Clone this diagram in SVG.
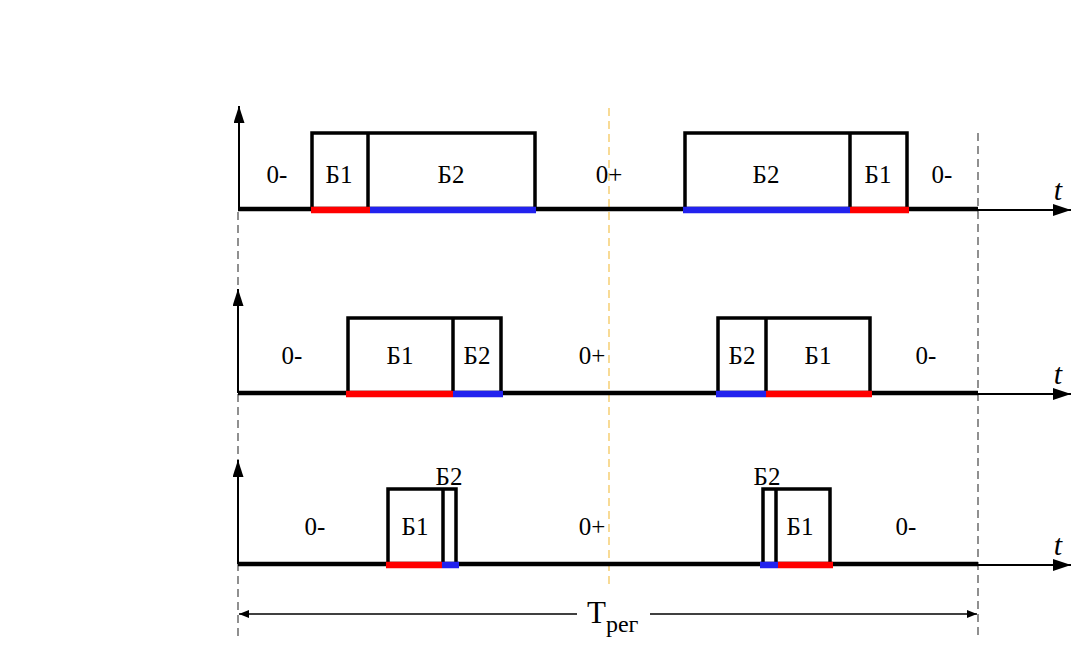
<svg xmlns="http://www.w3.org/2000/svg" width="1091" height="657" viewBox="0 0 1091 657">
<defs>
<style>
.bg{fill:#ffffff}
.axis{stroke:#000;stroke-width:2;fill:none}
.base{stroke:#000;stroke-width:4.5;fill:none}
.pulse{stroke:#000;stroke-width:3.5;fill:none}
.red{stroke:#ff0000;stroke-width:6.5}
.blue{stroke:#2222ee;stroke-width:6.5}
.dash{stroke:#555;stroke-width:1.3;stroke-dasharray:8,5;fill:none}
.ydash{stroke:#f7d27c;stroke-width:1.6;stroke-dasharray:8,5;fill:none}
.lbl{font-size:25px;fill:#000;text-anchor:middle}
.t{font-size:30px;font-style:italic;fill:#000;text-anchor:middle}
.dim{stroke:#000;stroke-width:1.3;fill:none}
</style>
<marker id="ah" viewBox="0 0 10 8" refX="10" refY="4" markerWidth="10" markerHeight="8" markerUnits="userSpaceOnUse" orient="auto">
<path d="M0,0 L10,4 L0,8 Z" fill="#000"/>
</marker>
<marker id="ahBig" viewBox="0 0 18 12" refX="18" refY="6" markerWidth="18" markerHeight="12" markerUnits="userSpaceOnUse" orient="auto">
<path d="M0,0 L18,6 L0,12 Z" fill="#000"/>
</marker>
<marker id="ahV" viewBox="0 0 17 11" refX="17" refY="5.5" markerWidth="17" markerHeight="11" markerUnits="userSpaceOnUse" orient="auto">
<path d="M0,0 L17,5.5 L0,11 Z" fill="#000"/>
</marker>
</defs>
<rect class="bg" x="0" y="0" width="1091" height="657"/>

<g id="guides">
<line class="dash" x1="238" y1="212" x2="238" y2="640"/>
<line class="dash" x1="978" y1="133" x2="978" y2="636"/>
<line class="ydash" x1="609" y1="108" x2="609" y2="586"/>
</g>

<g id="connectors">
<line class="axis" x1="239" y1="209" x2="239" y2="106" marker-end="url(#ahV)"/>
<line class="axis" x1="238" y1="393" x2="238" y2="289" marker-end="url(#ahV)"/>
<line class="axis" x1="238" y1="564" x2="238" y2="460" marker-end="url(#ahV)"/>
<line class="axis" x1="976" y1="210" x2="1071" y2="210" marker-end="url(#ahBig)"/>
<line class="axis" x1="976" y1="394" x2="1071" y2="394" marker-end="url(#ahBig)"/>
<line class="axis" x1="976" y1="565" x2="1071" y2="565" marker-end="url(#ahBig)"/>
<line class="base" x1="238" y1="209" x2="978" y2="209"/>
<line class="base" x1="238" y1="393" x2="978" y2="393"/>
<line class="base" x1="238" y1="564" x2="978" y2="564"/>
<line class="dim" x1="577" y1="614" x2="239" y2="614" marker-end="url(#ah)"/>
<line class="dim" x1="650" y1="614" x2="977" y2="614" marker-end="url(#ah)"/>
</g>

<g id="texts" font-family="Liberation Serif, Times New Roman, serif">
<g id="row1">
<g id="r1-p1">
<polyline class="pulse" points="312,209 312,133 535,133 535,209"/>
<line class="pulse" x1="368" y1="133" x2="368" y2="209"/>
<line class="red" x1="311" y1="210" x2="370" y2="210"/>
<line class="blue" x1="370" y1="210" x2="536" y2="210"/>
</g>
<g id="r1-p2">
<polyline class="pulse" points="685,209 685,133 907,133 907,209"/>
<line class="pulse" x1="850" y1="133" x2="850" y2="209"/>
<line class="blue" x1="683" y1="210" x2="850" y2="210"/>
<line class="red" x1="850" y1="210" x2="909" y2="210"/>
</g>
<text class="lbl" x="277" y="183">0-</text>
<text class="lbl" x="339" y="183">Б1</text>
<text class="lbl" x="451" y="183">Б2</text>
<text class="lbl" x="609" y="183">0+</text>
<text class="lbl" x="766" y="183">Б2</text>
<text class="lbl" x="878" y="183">Б1</text>
<text class="lbl" x="942" y="183">0-</text>
<text class="t" x="1058" y="200">t</text>
</g>

<g id="row2">
<g id="r2-p1">
<polyline class="pulse" points="348,393 348,318 501,318 501,393"/>
<line class="pulse" x1="453" y1="318" x2="453" y2="393"/>
<line class="red" x1="346" y1="394" x2="453" y2="394"/>
<line class="blue" x1="453" y1="394" x2="503" y2="394"/>
</g>
<g id="r2-p2">
<polyline class="pulse" points="718,393 718,318 870,318 870,393"/>
<line class="pulse" x1="766" y1="318" x2="766" y2="393"/>
<line class="blue" x1="716" y1="394" x2="766" y2="394"/>
<line class="red" x1="766" y1="394" x2="872" y2="394"/>
</g>
<text class="lbl" x="292" y="364">0-</text>
<text class="lbl" x="400" y="364">Б1</text>
<text class="lbl" x="477" y="364">Б2</text>
<text class="lbl" x="592" y="364">0+</text>
<text class="lbl" x="742" y="364">Б2</text>
<text class="lbl" x="818" y="364">Б1</text>
<text class="lbl" x="926" y="364">0-</text>
<text class="t" x="1058" y="384">t</text>
</g>

<g id="row3">
<g id="r3-p1">
<polyline class="pulse" points="388,564 388,489 456,489 456,564"/>
<line class="pulse" x1="443" y1="489" x2="443" y2="564"/>
<line class="red" x1="386" y1="565" x2="442" y2="565"/>
<line class="blue" x1="442" y1="565" x2="459" y2="565"/>
</g>
<g id="r3-p2">
<polyline class="pulse" points="763,564 763,489 830,489 830,564"/>
<line class="pulse" x1="776" y1="489" x2="776" y2="564"/>
<line class="blue" x1="760" y1="565" x2="778" y2="565"/>
<line class="red" x1="778" y1="565" x2="833" y2="565"/>
</g>
<text class="lbl" x="315" y="535">0-</text>
<text class="lbl" x="415" y="535">Б1</text>
<text class="lbl" x="449" y="485">Б2</text>
<text class="lbl" x="592" y="535">0+</text>
<text class="lbl" x="767" y="485">Б2</text>
<text class="lbl" x="800" y="535">Б1</text>
<text class="lbl" x="906" y="535">0-</text>
<text class="t" x="1058" y="555">t</text>
</g>

<g id="period">
<text font-size="31" x="587" y="623">T<tspan font-size="24" dy="9">рег</tspan></text>
</g>
</g>
</svg>
